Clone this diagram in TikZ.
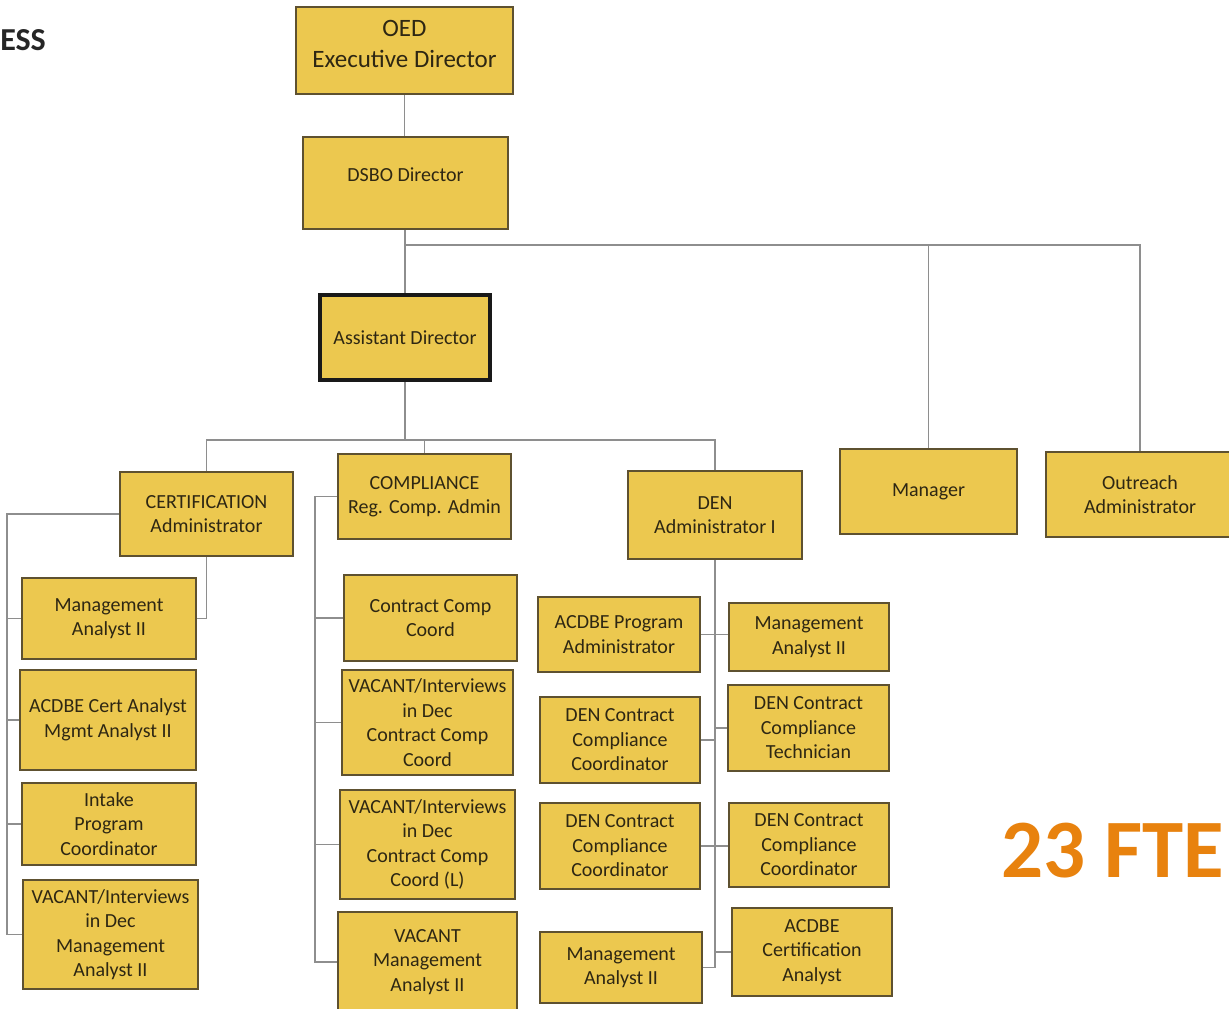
\documentclass[tikz,border=0pt]{standalone}
\usepackage{fontspec}
\setmainfont{Carlito}
\definecolor{boxfill}{HTML}{ECC84F}
\definecolor{boxline}{HTML}{5E5130}
\definecolor{txt}{HTML}{2E2713}
\definecolor{linegray}{HTML}{8E8E8E}
\definecolor{fte}{HTML}{E8820E}
\tikzset{
  orgbox/.style={draw=boxline, fill=boxfill, line width=2.2pt, align=center, inner sep=1pt,
    text=txt, font=\fontsize{20}{24.5}\selectfont},
  bigbox/.style={orgbox, font=\fontsize{25}{31}\selectfont},
  thickbox/.style={orgbox, draw=black!90, line width=4.5pt},
  conn/.style={draw=linegray, line width=1.5pt}
}
\begin{document}
\begin{tikzpicture}[x=1pt,y=-1pt]
\fill[white] (0,0) rectangle (1229,1009);
\useasboundingbox (0,0) rectangle (1229,1009);

% top level
\node[bigbox, minimum width=217pt, minimum height=87pt] (oed) at (404.5,50.5) {OED\\Executive Director\rule[-14pt]{0pt}{14pt}};
\node[orgbox, minimum width=205pt, minimum height=92pt] (dsbo) at (405.5,183) {DSBO Director\rule[-16pt]{0pt}{16pt}};
\node[thickbox, minimum width=170pt, minimum height=85pt] (ad) at (405,337.5) {Assistant Director};
\node[orgbox, minimum width=177pt, minimum height=85pt] (mgr) at (928.5,491.5) {Manager};
\node[orgbox, minimum width=188pt, minimum height=85pt] (out) at (1140,494.5) {Outreach\\Administrator};

% second level
\node[orgbox, minimum width=173pt, minimum height=84pt] (cert) at (206.5,514) {CERTIFICATION\\Administrator};
\node[orgbox, minimum width=173pt, minimum height=85pt] (comp) at (424.5,496.5) {COMPLIANCE\\Reg. Comp. Admin};
\node[orgbox, minimum width=174pt, minimum height=88pt] (den) at (715,515) {DEN\\Administrator I};

% certification
\node[orgbox, minimum width=174pt, minimum height=81pt] (cma) at (109,618.5) {Management\\Analyst II};
\node[orgbox, minimum width=176pt, minimum height=100pt] (cacd) at (108,720) {ACDBE Cert Analyst\\Mgmt Analyst II};
\node[orgbox, minimum width=174pt, minimum height=82pt] (cint) at (109,824) {Intake\\Program\\Coordinator};
\node[orgbox, minimum width=175pt, minimum height=109pt] (cvac) at (110.5,934.5) {VACANT/Interviews\\in Dec\\Management\\Analyst II};

% compliance
\node[orgbox, minimum width=173pt, minimum height=86pt] (pcc) at (430.5,618) {Contract Comp\\Coord};
\node[orgbox, minimum width=171pt, minimum height=105pt] (pv1) at (427.5,722.5) {VACANT/Interviews\\in Dec\\Contract Comp\\Coord};
\node[orgbox, minimum width=175pt, minimum height=109pt] (pv2) at (427.5,844.5) {VACANT/Interviews\\in Dec\\Contract Comp\\Coord (L)};
\node[orgbox, minimum width=179pt, minimum height=100pt] (pv3) at (427.5,962) {VACANT\\Management\\Analyst II};

% DEN
\node[orgbox, minimum width=162pt, minimum height=75pt] (dpa) at (619,634.5) {ACDBE Program\\Administrator};
\node[orgbox, minimum width=160pt, minimum height=68pt] (dma2) at (809,637) {Management\\Analyst II};
\node[orgbox, minimum width=160pt, minimum height=86pt] (dcc1) at (620,740) {DEN Contract\\Compliance\\Coordinator};
\node[orgbox, minimum width=161pt, minimum height=86pt] (dtech) at (808.5,728) {DEN Contract\\Compliance\\Technician};
\node[orgbox, minimum width=160pt, minimum height=86pt] (dcc2) at (620,846) {DEN Contract\\Compliance\\Coordinator};
\node[orgbox, minimum width=160pt, minimum height=84pt] (dcc3) at (809,845) {DEN Contract\\Compliance\\Coordinator};
\node[orgbox, minimum width=162pt, minimum height=71pt] (dma3) at (621,967.5) {Management\\Analyst II};
\node[orgbox, minimum width=160pt, minimum height=88pt] (dcert) at (812,952) {ACDBE\\Certification\\Analyst};

% labels
\node[anchor=base east, inner sep=0pt, font=\fontsize{32}{36}\selectfont\bfseries, text=black!85] (ess) at (46,50) {ESS};
\node[anchor=base east, inner sep=0pt, font=\fontsize{83}{88}\selectfont\bfseries, text=fte] (fte) at (1224,877) {23 FTE};

% connectors
\coordinate (bus1) at (405,245);
\coordinate (bus2) at (405,440);
\coordinate (cx) at (7,0);
\coordinate (px) at (315,0);
\draw[conn] (oed.south) -- (oed.south |- dsbo.north);
\draw[conn] (ad.north |- dsbo.south) -- (ad.north);
\draw[conn] (bus1) -| (out.north);
\draw[conn] (bus1 -| mgr.north) -- (mgr.north);
\draw[conn] (ad.south) -- (bus2);
\draw[conn] (cert.north) |- (bus2) -| (den.north);
\draw[conn] (bus2 -| comp.north) -- (comp.north);
% certification
\draw[conn] (cert.west) -- (cert.west -| cx) |- (cvac.west);
\foreach \n in {cma,cacd,cint} \draw[conn] (\n.west -| cx) -- (\n.west);
\draw[conn] (cert.south) |- (cma.east);
% compliance
\draw[conn] (comp.west) -- (comp.west -| px) |- (pv3.west);
\foreach \n in {pcc,pv1,pv2} \draw[conn] (\n.west -| px) -- (\n.west);
% DEN
\draw[conn] (den.south) |- (dma3.east);
\draw[conn] (den.south |- dcert.west) -- (dcert.west);
\draw[conn] (dpa.east) -- (dpa.east -| dma2.west);
\draw[conn] (dcc1.east) -- (dcc1.east -| den.south);
\draw[conn] (dtech.west -| den.south) -- (dtech.west);
\draw[conn] (dcc2.east) -- (dcc2.east -| dcc3.west);
\end{tikzpicture}
\end{document}
